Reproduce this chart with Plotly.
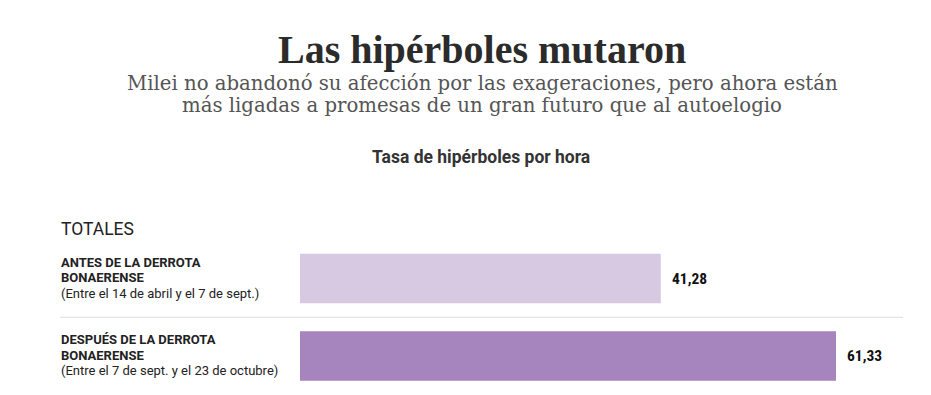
import plotly.graph_objects as go

categories = ["ANTES DE LA DERROTA BONAERENSE", "DESPUÉS DE LA DERROTA BONAERENSE"]
label_line1 = ["ANTES DE LA DERROTA", "DESPUÉS DE LA DERROTA"]
label_line2 = ["BONAERENSE", "BONAERENSE"]
label_sub = ["(Entre el 14 de abril y el 7 de sept.)", "(Entre el 7 de sept. y el 23 de octubre)"]
values = [41.28, 61.33]
value_labels = ["41,28", "61,33"]
colors = ["#d8c9e2", "#a685be"]

# page body has an 8px margin; figure is sized to fill the remaining window
OFF = 8
W, H = 931 - OFF, 395 - OFF

def py(p):
    return 1 - (p - OFF) / H

def px_(p):
    return (p - OFF) / W

fig = go.Figure()
fig.add_trace(go.Bar(
    y=categories, x=values, orientation="h",
    marker=dict(color=colors, line=dict(width=0)),
    hoverinfo="skip", showlegend=False,
))

serif = "Liberation Serif, serif"
annotations = []
annotations.append(dict(text="<b>Las hipérboles mutaron</b>", x=px_(482), y=py(50), xref="paper", yref="paper",
                        xanchor="center", yanchor="middle", showarrow=False,
                        font=dict(family=serif, size=40, color="#2b2b2b")))
subtitle = ["Milei no abandonó su afección por las exageraciones, pero ahora están",
            "más ligadas a promesas de un gran futuro que al autoelogio"]
for i, line in enumerate(subtitle):
    annotations.append(dict(text=line, x=px_(482), y=py(83 + 22 * i), xref="paper", yref="paper",
                            xanchor="center", yanchor="middle", showarrow=False,
                            font=dict(family="DejaVu Serif, serif", size=19.7, color="#555555")))
annotations.append(dict(text="<b>Tasa de hipérboles por hora</b>", x=px_(481), y=py(157), xref="paper", yref="paper",
                        xanchor="center", yanchor="middle", showarrow=False,
                        font=dict(family="Roboto", size=17.5, color="#333333")))
annotations.append(dict(text="TOTALES", x=px_(59), y=py(229), xref="paper", yref="paper",
                        xanchor="left", yanchor="middle", showarrow=False,
                        font=dict(family="Roboto", size=17.5, color="#222222")))
for i, c in enumerate(categories):
    lines = [f"<b>{label_line1[i]}</b>", f"<b>{label_line2[i]}</b>", label_sub[i]]
    for j, t in enumerate(lines):
        annotations.append(dict(text=t, x=px_(59), y=c, xref="paper", yref="y",
                                xanchor="left", yanchor="middle", yshift=(1 - j) * 15.5 + 1,
                                showarrow=False, font=dict(family="Roboto", size=13, color="#222222")))
    annotations.append(dict(text=f"<b>{value_labels[i]}</b>", x=values[i], y=c, xref="x", yref="y",
                            xanchor="left", yanchor="middle", xshift=9, showarrow=False,
                            font=dict(family="Roboto Condensed, Roboto", size=15.5, color="#111111")))

fig.update_layout(
    width=W, height=H, margin=dict(l=0, r=0, t=0, b=0),
    paper_bgcolor="white", plot_bgcolor="white",
    bargap=0.36,
    xaxis=dict(domain=[px_(300), px_(900)], range=[0, 68.65], visible=False, fixedrange=True),
    yaxis=dict(domain=[py(394.75), py(239.75)], range=[1.5, -0.5], visible=False, type="category", fixedrange=True),
    annotations=annotations,
    shapes=[dict(type="line", xref="paper", yref="y", x0=px_(60), x1=px_(903), y0=0.5, y1=0.5,
                 line=dict(color="#dddddd", width=1))],
)

fig.write_html("out.html", config={"displayModeBar": False})
